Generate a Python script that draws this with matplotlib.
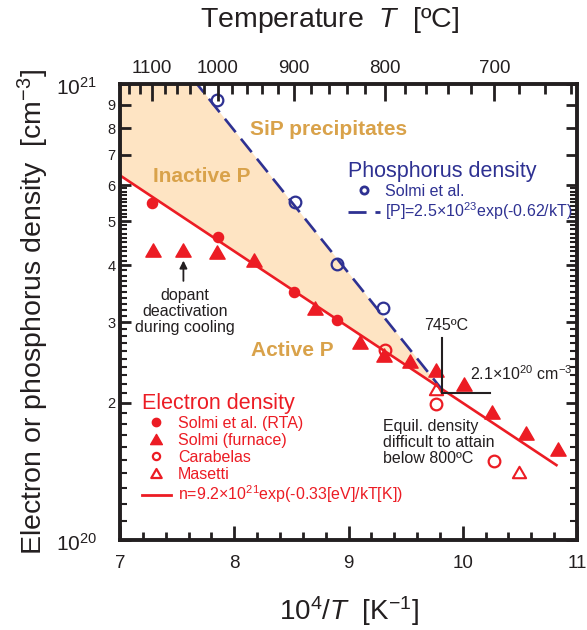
import numpy as np
import matplotlib
matplotlib.use("Agg")
import matplotlib.pyplot as plt
import matplotlib.transforms as mtransforms
from matplotlib.lines import Line2D
from matplotlib.path import Path
from matplotlib.ticker import (FixedLocator, MultipleLocator, FuncFormatter,
                               NullFormatter, FixedFormatter)

plt.rcParams["font.family"] = ["Liberation Sans", "DejaVu Sans"]
plt.rcParams["mathtext.fontset"] = "custom"
plt.rcParams["mathtext.rm"] = "Liberation Sans"
plt.rcParams["mathtext.it"] = "Liberation Sans:italic"
plt.rcParams["mathtext.bf"] = "Liberation Sans:bold"

RED = "#EC1C24"
BLUE = "#2E3192"
GOLD = "#D9A24A"
FILL = "#FEE4C3"
INK = "#231F20"

# ---- data: x = 10^4/T [1/K], densities in units of 1e20 cm^-3 ----
rta_x = [7.28, 7.86, 8.52, 8.90]
rta_n = [5.47, 4.62, 3.50, 3.03]

furnace_x = [7.29, 7.55, 7.85, 8.17, 8.71, 9.10, 9.31, 9.54, 9.77, 10.01, 10.26, 10.55, 10.83]
furnace_n = [4.32, 4.32, 4.28, 4.11, 3.23, 2.72, 2.55, 2.47, 2.36, 2.20, 1.91, 1.72, 1.58]

carabelas_x = [9.32, 9.77, 10.27]
carabelas_n = [2.61, 1.99, 1.49]

masetti_x = [9.77, 10.49]
masetti_n = [2.14, 1.41]

solmi_p_x = [7.85, 8.53, 8.90, 9.30]
solmi_p = [9.22, 5.50, 4.02, 3.23]

# Arrhenius fits
n_prefactor, n_ea = 9.2e21, 0.33   # electrons
p_prefactor, p_ea = 2.5e23, 0.62   # phosphorus solubility
kB = 8.617e-5                       # eV/K

cross_T = 745            # degC
cross_n = 2.1e20         # cm^-3

temp_major = [1100, 1000, 900, 800, 700]
temp_minor = list(range(1140, 639, -20))


def arrhenius(pref, ea, inv_t):
    return pref * np.exp(-ea * np.asarray(inv_t) * 1e-4 / kB)


def to_inv(tc):
    return 1e4 / (np.asarray(tc, dtype=float) + 273.15)


E20 = 1e20

fig = plt.figure(figsize=(5.87, 6.3), dpi=100)
ax = fig.add_axes([120 / 587, 1 - 540 / 630, 457 / 587, 456 / 630])
ax.set_yscale("log")
ax.set_xlim(7, 11)
ax.set_ylim(1e20, 1e21)

x_cross = float(to_inv(cross_T))

# shaded band of inactive phosphorus
xf = np.linspace(7.0, x_cross, 300)
ax.fill_between(xf, arrhenius(n_prefactor, n_ea, xf), arrhenius(p_prefactor, p_ea, xf),
                color=FILL, lw=0, zorder=0)

# fit lines
xn = np.linspace(7.0, 10.82, 300)
ax.plot(xn, arrhenius(n_prefactor, n_ea, xn), color=RED, lw=1.9, zorder=2)
xp = np.linspace(7.0, x_cross, 300)
ax.plot(xp, arrhenius(p_prefactor, p_ea, xp), color=BLUE, lw=1.9, dashes=(6.5, 3.2), zorder=2)

# equilateral triangle marker
tri = Path([(-1, -0.866), (1, -0.866), (0, 0.866), (-1, -0.866)], closed=True)

ax.plot(furnace_x, np.array(furnace_n) * E20, ls="none", marker=tri, ms=11, color=RED,
        mec=RED, zorder=3)
ax.plot(rta_x, np.array(rta_n) * E20, ls="none", marker="o", ms=7.3, color=RED, zorder=4)
ax.plot(carabelas_x, np.array(carabelas_n) * E20, ls="none", marker="o", ms=8.4, mfc="none",
        mec=RED, mew=1.6, zorder=4)
ax.plot(masetti_x, np.array(masetti_n) * E20, ls="none", marker=tri, ms=9.5, mfc="none",
        mec=RED, mew=1.5, zorder=4)
ax.plot(solmi_p_x, np.array(solmi_p) * E20, ls="none", marker="o", ms=8.4, mfc="none",
        mec=BLUE, mew=1.6, zorder=4)

# region labels
ax.text(8.14, 7.93e20, "SiP precipitates", color=GOLD, fontsize=15, fontweight="bold",
        ha="left", va="center")
ax.text(7.29, 6.27e20, "Inactive P", color=GOLD, fontsize=15, fontweight="bold",
        ha="left", va="center")
ax.text(8.15, 2.60e20, "Active P", color=GOLD, fontsize=15, fontweight="bold",
        ha="left", va="center")

# annotations
ax.text(7.57, 3.165e20, "dopant\ndeactivation\nduring cooling", ha="center", va="center",
        fontsize=11.5, color=INK, linespacing=1.08)
ax.annotate("", xy=(7.555, 4.10e20), xytext=(7.555, 3.70e20),
            arrowprops=dict(arrowstyle="-|>", color=INK, lw=1.3, mutation_scale=11,
                            shrinkA=0, shrinkB=0))
ax.text(9.30, 1.635e20, "Equil. density\ndifficult to attain\nbelow 800ºC", ha="left",
        va="center", fontsize=11.5, color=INK, linespacing=1.08)

ax.plot([x_cross, x_cross], [2.77e20, cross_n], color=INK, lw=1.5, zorder=5)
ax.plot([x_cross, 10.24], [cross_n, cross_n], color=INK, lw=1.5, zorder=5)
ax.text(x_cross + 0.03, 2.89e20, f"{cross_T}ºC", ha="center", va="baseline",
        fontsize=11.5, color=INK)
ax.text(10.06, 2.245e20, r"2.1×10$^{20}$ cm$^{-3}$", ha="left", va="baseline",
        fontsize=11.5, color=INK)

# legends
red_handles = [
    Line2D([], [], ls="none", marker="o", ms=6, color=RED),
    Line2D([], [], ls="none", marker=tri, ms=8.5, color=RED),
    Line2D([], [], ls="none", marker="o", ms=5.2, mfc="none", mec=RED, mew=1.6),
    Line2D([], [], ls="none", marker=tri, ms=7.5, mfc="none", mec=RED, mew=1.6),
    Line2D([], [], color=RED, lw=2),
]
red_labels = ["Solmi et al. (RTA)", "Solmi (furnace)", "Carabelas", "Masetti",
              r"n=9.2×10$^{21}$exp(-0.33[eV]/kT[K])"]
leg_n = ax.legend(red_handles, red_labels, title="Electron density", loc="upper left",
                  bbox_to_anchor=(0.048, 0.322), frameon=False, borderpad=0,
                  borderaxespad=0, handlelength=1.8, handletextpad=0.45,
                  labelspacing=0.12, fontsize=11.5, title_fontsize=15.5,
                  alignment="left", labelcolor=RED)
leg_n.get_title().set_color(RED)
ax.add_artist(leg_n)

blue_handles = [
    Line2D([], [], ls="none", marker="o", ms=5.2, mfc="none", mec=BLUE, mew=2),
    Line2D([], [], color=BLUE, lw=2, dashes=(6.5, 3.2)),
]
blue_labels = ["Solmi et al.", r"[P]=2.5×10$^{23}$exp(-0.62/kT)"]
leg_p = ax.legend(blue_handles, blue_labels, title="Phosphorus density", loc="upper left",
                  bbox_to_anchor=(0.499, 0.832), frameon=False, borderpad=0,
                  borderaxespad=0, handlelength=2.0, handletextpad=0.3,
                  labelspacing=0.12, fontsize=11.5, title_fontsize=15.5,
                  alignment="left", labelcolor=BLUE)
leg_p.get_title().set_color(BLUE)

# axes styling
for s in ax.spines.values():
    s.set_linewidth(2.8)
    s.set_color(INK)

ax.xaxis.set_major_locator(FixedLocator([7, 8, 9, 10, 11]))
ax.xaxis.set_minor_locator(MultipleLocator(0.2))
ax.xaxis.set_major_formatter(FuncFormatter(lambda v, p: f"{v:g}"))
ax.tick_params(axis="x", which="both", direction="in", top=False, bottom=True, color=INK,
               labelcolor=INK)
ax.tick_params(axis="x", which="major", length=10, width=2, pad=11, labelsize=13.5)
ax.tick_params(axis="x", which="minor", length=6, width=2)

ax.yaxis.set_major_locator(FixedLocator([k * E20 for k in range(1, 11)]))
ax.yaxis.set_minor_locator(FixedLocator([k * 1e19 for k in range(11, 60) if k % 10]))
ax.yaxis.set_major_formatter(FuncFormatter(
    lambda v, p: "" if round(v / E20) in (1, 10) else f"{round(v / E20)}"))
ax.yaxis.set_minor_formatter(NullFormatter())
ax.tick_params(axis="y", which="both", direction="in", left=True, right=True, color=INK,
               labelcolor=INK)
ax.tick_params(axis="y", which="major", length=8, width=2, pad=3, labelsize=10.5)
ax.tick_params(axis="y", which="minor", length=5, width=1.5)

ytrans = mtransforms.blended_transform_factory(ax.transAxes, ax.transData)
for val, lab in [(1e21, r"10$^{21}$"), (1e20, r"10$^{20}$")]:
    off = mtransforms.ScaledTranslation(0, -0.11, fig.dpi_scale_trans)
    ax.text(-0.05, val, lab, transform=ytrans + off, ha="right", va="baseline",
            fontsize=15, color=INK)

# top temperature axis
axt = ax.twiny()
axt.set_xlim(ax.get_xlim())
axt.xaxis.set_major_locator(FixedLocator(to_inv(temp_major)))
axt.xaxis.set_minor_locator(FixedLocator(to_inv([t for t in temp_minor if t not in temp_major])))
axt.xaxis.set_major_formatter(FixedFormatter([str(t) for t in temp_major]))
axt.tick_params(axis="x", which="both", direction="in", top=True, bottom=False, color=INK,
                labelcolor=INK)
axt.tick_params(axis="x", which="major", length=12, width=2, pad=5, labelsize=13.5)
axt.tick_params(axis="x", which="minor", length=7, width=2)
for s in axt.spines.values():
    s.set_visible(False)

ax.set_xlabel(r"10$^{4}$/$T$  [K$^{-1}$]", fontsize=20, color=INK)
ax.xaxis.set_label_coords(0.5, -0.155)
ax.xaxis.label.set_va("center")
ax.set_ylabel(r"Electron or phosphorus density  [cm$^{-3}$]", fontsize=20.5, color=INK)
ax.yaxis.set_label_coords(-0.19, 0.5)
ax.yaxis.label.set_va("center")

fig.text(330 / 587, 1 - 20 / 630, r"Temperature  $T$  [ºC]", ha="center", va="center",
         fontsize=20.5, color=INK)

fig.savefig("out.png", dpi=100)
